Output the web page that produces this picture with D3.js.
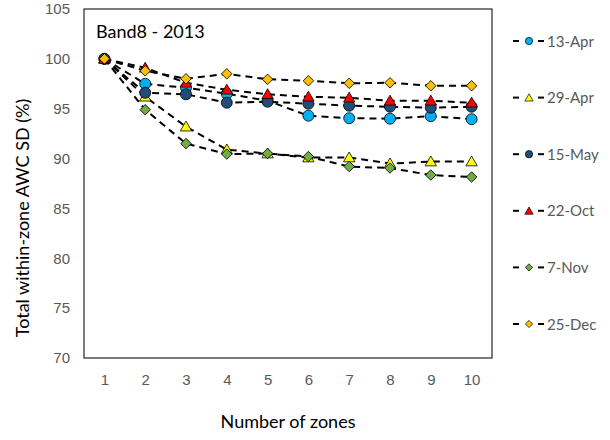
<!DOCTYPE html>
<html>
<head>
<meta charset="utf-8">
<script src="https://cdn.jsdelivr.net/npm/d3@7"></script>
<style>
  body { margin: 0; background: #fff; font-family: Lato, "Open Sans", sans-serif; }
  .tick-label { fill: #595959; font-size: 15px; }
</style>
</head>
<body>
<div id="container"><svg></svg></div>
<script>
let width = 610;
let height = 440;

// data
let zones = [1, 2, 3, 4, 5, 6, 7, 8, 9, 10];
let seriesNames = ['13-Apr', '29-Apr', '15-May', '22-Oct', '7-Nov', '25-Dec'];
let apr13 = [100, 97.5, 97.1, 96.5, 95.8, 94.3, 94.05, 94.0, 94.25, 93.95];
let apr29 = [100, 96.2, 93.2, 90.9, 90.5, 90.1, 90.1, 89.5, 89.7, 89.7];
let may15 = [100, 96.6, 96.45, 95.6, 95.7, 95.5, 95.3, 95.2, 95.1, 95.2];
let oct22 = [100, 99.1, 97.6, 96.9, 96.45, 96.2, 96.1, 95.8, 95.8, 95.6];
let nov7 = [100, 94.9, 91.5, 90.45, 90.5, 90.2, 89.2, 89.05, 88.35, 88.15];
let dec25 = [100, 98.8, 98.0, 98.5, 97.95, 97.8, 97.55, 97.6, 97.3, 97.3];
let yTicks = [70, 75, 80, 85, 90, 95, 100, 105];

let allValues = [apr13, apr29, may15, oct22, nov7, dec25];
let colors = ['#00B0F0', '#FFFF00', '#1F4E79', '#FF0000', '#70AD47', '#FFC000'];
let shapes = [d3.symbolCircle, d3.symbolTriangle, d3.symbolCircle, d3.symbolTriangle, d3.symbolSquare, d3.symbolSquare];
let rotate = [0, 0, 0, 0, 45, 45];
let sizes = [95, 56, 95, 56, 55, 55];
let legendSizes = [42, 30, 42, 30, 26, 26];

function draw_chart() {
    let plot = {'left': 84, 'right': 492, 'top': 9, 'bottom': 358};

    let svg = d3.select('#container').select('svg')
        .attr('width', width)
        .attr('height', height);

    let x = d3.scalePoint()
        .domain(zones)
        .range([plot.left, plot.right])
        .padding(0.5);
    let y = d3.scaleLinear()
        .domain([70, 105])
        .range([plot.bottom, plot.top]);

    // frame
    svg.append('rect')
        .attr('x', plot.left)
        .attr('y', plot.top)
        .attr('width', plot.right - plot.left)
        .attr('height', plot.bottom - plot.top)
        .attr('fill', 'none')
        .attr('stroke', '#262626')
        .attr('stroke-width', 1.2);

    // axes (labels only, like the original)
    let yAxis = svg.append('g')
        .attr('transform', `translate(${plot.left - 14},0)`)
        .call(d3.axisLeft(y).tickValues(yTicks).tickSize(0).tickPadding(0));
    yAxis.select('.domain').remove();
    yAxis.selectAll('text').attr('class', 'tick-label').attr('font-family', null).attr('font-size', null);

    let xAxis = svg.append('g')
        .attr('transform', `translate(0,${plot.bottom + 16})`)
        .call(d3.axisBottom(x).tickSize(0).tickPadding(0));
    xAxis.select('.domain').remove();
    xAxis.selectAll('text').attr('class', 'tick-label').attr('font-family', null).attr('font-size', null);

    // axis titles
    svg.append('text')
        .attr('x', (plot.left + plot.right) / 2)
        .attr('y', 428)
        .attr('text-anchor', 'middle')
        .attr('font-size', 18)
        .attr('fill', '#000')
        .text('Number of zones');
    svg.append('text')
        .attr('transform', 'translate(29,' + 218 + ') rotate(-90)')
        .attr('text-anchor', 'middle')
        .attr('font-size', 18)
        .attr('fill', '#000')
        .text('Total within-zone AWC SD (%)');

    // chart title
    svg.append('text')
        .attr('x', 96)
        .attr('y', 38)
        .attr('font-size', 18)
        .attr('fill', '#000')
        .text('Band8 - 2013');

    let line = d3.line()
        .x((d, i) => x(zones[i]))
        .y(d => y(d));

    for (var s = 0; s < allValues.length; ++s) {
        let g = svg.append('g');
        g.append('path')
            .attr('d', line(allValues[s]))
            .attr('fill', 'none')
            .attr('stroke', '#000')
            .attr('stroke-width', 2)
            .attr('stroke-dasharray', '7,5');
        let sym = d3.symbol().type(shapes[s]).size(sizes[s]);
        let r = rotate[s];
        let dy = shapes[s] === d3.symbolTriangle ? 1 : 0;
        g.selectAll('path.mark')
            .data(allValues[s])
            .enter()
            .append('path')
            .attr('class', 'mark')
            .attr('d', sym())
            .attr('transform', (d, i) => `translate(${x(zones[i])},${y(d) + dy}) rotate(${r})`)
            .attr('fill', colors[s])
            .attr('stroke', '#000')
            .attr('stroke-width', 0.8);
    }

    // legend
    let legend = svg.append('g');
    for (var s = 0; s < seriesNames.length; ++s) {
        let ly = 41 + s * 56.6;
        let lg = legend.append('g').attr('transform', `translate(0,${ly})`);
        lg.append('line').attr('x1', 513).attr('x2', 519).attr('y1', 0).attr('y2', 0)
            .attr('stroke', '#000').attr('stroke-width', 2);
        lg.append('line').attr('x1', 538).attr('x2', 544).attr('y1', 0).attr('y2', 0)
            .attr('stroke', '#000').attr('stroke-width', 2);
        let dy = shapes[s] === d3.symbolTriangle ? 1 : 0;
        lg.append('path')
            .attr('d', d3.symbol().type(shapes[s]).size(legendSizes[s])())
            .attr('transform', `translate(529,${dy}) rotate(${rotate[s]})`)
            .attr('fill', colors[s])
            .attr('stroke', '#000')
            .attr('stroke-width', 0.7);
        lg.append('text')
            .attr('x', 547)
            .attr('y', 5.5)
            .attr('font-size', 15)
            .attr('fill', '#595959')
            .text(seriesNames[s]);
    }
}

draw_chart();
</script>
</body>
</html>
